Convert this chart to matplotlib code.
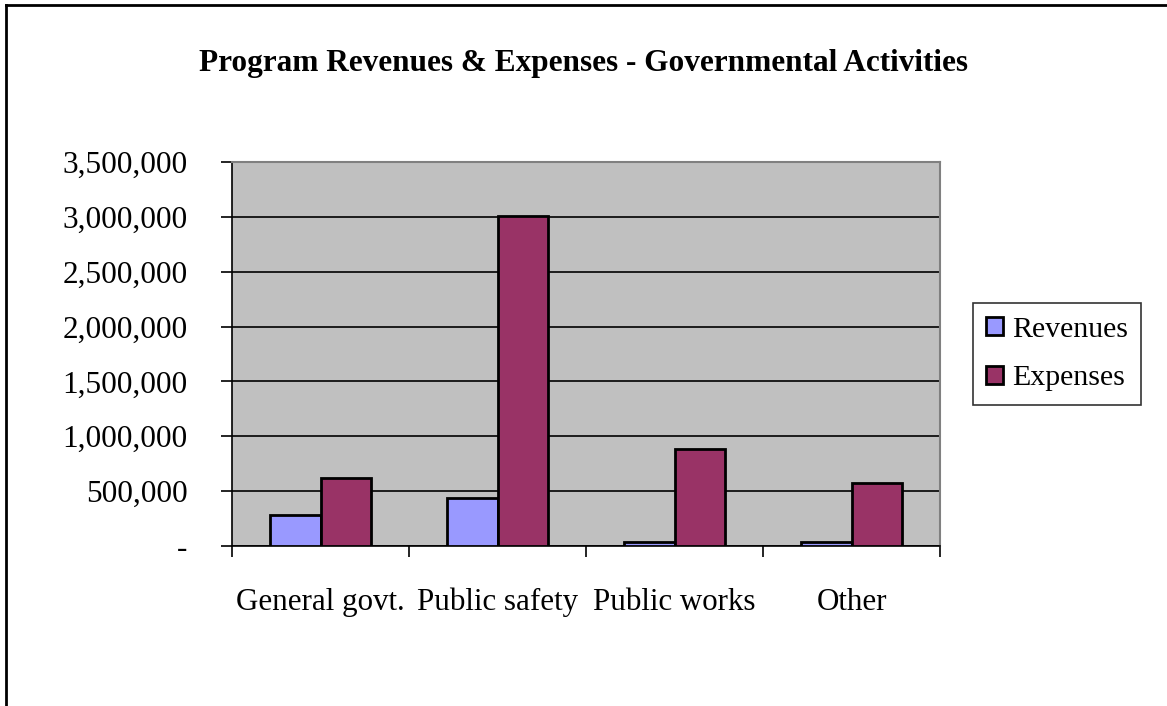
import matplotlib
matplotlib.use("Agg")
import matplotlib.pyplot as plt
from matplotlib.lines import Line2D
from matplotlib.ticker import FuncFormatter, FixedLocator
import numpy as np

categories = ["General govt.", "Public safety", "Public works", "Other"]
revenues = [282000, 435000, 38000, 38000]
expenses = [622000, 3010000, 880000, 573000]
series_names = ["Revenues", "Expenses"]
yticks = [0, 500000, 1000000, 1500000, 2000000, 2500000, 3000000, 3500000]

rev_color = "#9999FF"
exp_color = "#993366"

plt.rcParams['font.family'] = ['Liberation Serif', 'DejaVu Serif']

fig = plt.figure(figsize=(11.67, 7.06), dpi=100)
ax = fig.add_axes([232/1167, 1-546/706, (940-232)/1167, (546-162)/706])
ax.set_facecolor("#C0C0C0")

x = np.arange(len(categories))
w = 1/3.5
ax.bar(x - w/2, revenues, width=w, color=rev_color, edgecolor="black", linewidth=2, zorder=3, label=series_names[0])
ax.bar(x + w/2, expenses, width=w, color=exp_color, edgecolor="black", linewidth=2, zorder=3, label=series_names[1])

ax.set_xlim(-0.5, len(categories) - 0.5)
ax.set_ylim(0, 3500000)
ax.set_yticks(yticks)
ax.yaxis.set_major_formatter(FuncFormatter(lambda v, p: "-" if v == 0 else f"{int(v):,}"))
ax.grid(axis="y", color="black", linewidth=1.2, zorder=1)
ax.set_xticks(x)
ax.set_xticklabels(categories)
ax.xaxis.set_minor_locator(FixedLocator(np.arange(-0.5, len(categories), 1.0)))
ax.tick_params(axis="x", which="major", length=0, pad=30, labelsize=22.3)
ax.tick_params(axis="x", which="minor", length=8, width=1.2, direction="out")
ax.tick_params(axis="y", length=8, width=1.2, direction="out", pad=24, labelsize=22.5)

for s in ["left", "bottom"]:
    ax.spines[s].set_color("black")
    ax.spines[s].set_linewidth(1.2)
for s in ["top", "right"]:
    ax.spines[s].set_color("#808080")
    ax.spines[s].set_linewidth(1.5)

fig.text(0.5, 1-64/706, "Program Revenues & Expenses - Governmental Activities",
         ha="center", va="center", fontsize=22.5, fontweight="bold")

leg = ax.legend(loc="center left", bbox_to_anchor=((973-232)/708, (546-354)/384),
                fontsize=21.5, frameon=True, fancybox=False, edgecolor="black",
                handlelength=0.55, handleheight=0.55, handletextpad=0.3, borderpad=0.45,
                labelspacing=0.75, borderaxespad=0)
leg.get_frame().set_linewidth(1.2)

fig.add_artist(Line2D([6/1167, 6/1167], [0, 1-5/706], color="black", linewidth=2, transform=fig.transFigure))
fig.add_artist(Line2D([6/1167, 1], [1-5/706, 1-5/706], color="black", linewidth=2, transform=fig.transFigure))

fig.savefig("out.png", dpi=100, facecolor="white")
